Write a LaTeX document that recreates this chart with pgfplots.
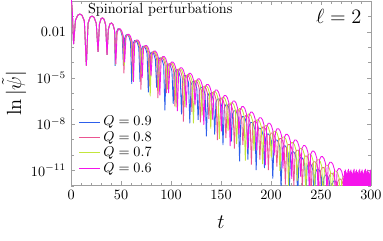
\documentclass[border=0pt]{standalone}
\usepackage{pgfplots}
\pgfplotsset{compat=1.18}
\usepackage{pgfplotstable}
\definecolor{cQnine}{RGB}{45,95,235}
\definecolor{cQeight}{RGB}{235,85,145}
\definecolor{cQseven}{RGB}{195,230,60}
\definecolor{cQsix}{RGB}{245,20,235}
\pgfplotsset{shortline/.style={legend image code/.code={\draw[##1] (0cm,0cm) -- (0.52cm,0cm);}}}

% log10 |psi| versus t
\pgfplotstableread{
t y
0 0.3
1.2 -0.6
2.5 -2.8
4.4 -1.25
6.7 -0.92
8.9 -0.85
11.0 -0.93
13.3 -1.3
15.3 -4.2
17.0 -1.45
19.0 -1.06
21.0 -0.98
23.0 -1.06
25.2 -1.45
27.0 -3.3
28.4 -1.5
30.0 -1.15
31.5 -1.1
33.0 -1.18
34.6 -1.55
36.0 -3.5
37.3 -1.85
38.9 -1.48
40.4 -1.43
41.9 -1.52
43.5 -1.9
44.1 -4.22
45.35 -2.02
46.84 -1.81
48.25 -1.81
49.66 -1.94
51.16 -2.28
52.4 -4.20
53.65 -2.40
55.14 -2.19
56.55 -2.19
57.96 -2.32
59.46 -2.66
60.7 -5.38
61.95 -2.78
63.44 -2.57
64.85 -2.57
66.26 -2.70
67.76 -3.04
69.0 -5.26
70.25 -3.16
71.74 -2.95
73.15 -2.95
74.56 -3.08
76.06 -3.42
77.3 -5.94
78.55 -3.54
80.04 -3.33
81.45 -3.33
82.86 -3.46
84.36 -3.80
85.6 -5.62
86.85 -3.92
88.34 -3.71
89.75 -3.71
91.16 -3.84
92.66 -4.18
93.9 -7.10
95.15 -4.30
96.64 -4.09
98.05 -4.09
99.46 -4.22
100.96 -4.56
102.2 -6.68
103.45 -4.68
104.94 -4.47
106.35 -4.47
107.76 -4.60
109.26 -4.94
110.5 -7.36
111.75 -5.06
113.24 -4.85
114.65 -4.85
116.06 -4.98
117.56 -5.32
118.8 -7.94
120.05 -5.44
121.54 -5.23
122.95 -5.23
124.36 -5.36
125.86 -5.70
127.1 -7.72
128.35 -5.82
129.84 -5.61
131.25 -5.61
132.66 -5.74
134.16 -6.08
135.4 -8.80
136.65 -6.20
138.14 -5.99
139.55 -5.99
140.96 -6.12
142.46 -6.46
143.7 -8.68
144.95 -6.58
146.44 -6.37
147.85 -6.37
149.26 -6.50
150.76 -6.84
152.0 -9.36
153.25 -6.96
154.74 -6.75
156.15 -6.75
157.56 -6.88
159.06 -7.22
160.3 -9.14
161.55 -7.34
163.04 -7.13
164.45 -7.13
165.86 -7.26
167.36 -7.60
168.6 -10.42
169.85 -7.72
171.34 -7.51
172.75 -7.51
174.16 -7.64
175.66 -7.98
176.9 -10.30
178.15 -8.10
179.64 -7.89
181.05 -7.89
182.46 -8.02
183.96 -8.36
185.2 -10.98
186.45 -8.48
187.94 -8.27
189.35 -8.27
190.76 -8.40
192.26 -8.74
193.5 -10.86
194.75 -8.86
196.24 -8.65
197.65 -8.65
199.06 -8.78
200.56 -9.12
201.8 -11.54
203.05 -9.24
204.54 -9.03
205.95 -9.03
207.36 -9.16
208.86 -9.50
210.1 -12.22
211.35 -9.62
212.84 -9.41
214.25 -9.41
215.66 -9.54
217.16 -9.88
218.4 -12.10
219.65 -10.00
221.14 -9.79
222.55 -9.79
223.96 -9.92
225.46 -10.26
226.7 -12.78
227.95 -10.38
229.44 -10.17
230.85 -10.17
232.26 -10.30
233.76 -10.64
235.0 -12.66
236.25 -10.76
237.74 -10.55
239.15 -10.55
240.56 -10.68
242.06 -11.02
243.3 -13.34
244.55 -11.14
246.04 -10.93
247.45 -10.93
248.86 -11.06
250.36 -11.40
251.6 -13.62
252.85 -11.52
254.34 -11.31
255.75 -11.31
257.16 -11.44
258.66 -11.78
259.9 -14.0
261.15 -11.90
262.64 -11.69
264.05 -11.69
265.46 -11.82
266.96 -12.16
268.2 -14.4
}\tblnine

\pgfplotstableread{
t y
0 0.3
1.2 -0.6
2.5 -2.8
4.4 -1.25
6.7 -0.92
8.9 -0.85
11.0 -0.93
13.3 -1.3
15.3 -4.2
17.0 -1.45
19.0 -1.06
21.0 -0.98
23.0 -1.06
25.2 -1.45
27.0 -3.3
28.4 -1.5
30.0 -1.15
31.5 -1.1
33.0 -1.18
34.6 -1.55
36.0 -3.5
37.3 -1.85
38.9 -1.48
40.4 -1.43
41.9 -1.52
43.5 -1.9
44.4 -3.93
45.68 -2.03
47.20 -1.82
48.65 -1.82
50.10 -1.94
51.63 -2.29
52.9 -4.70
54.18 -2.40
55.70 -2.19
57.15 -2.19
58.60 -2.31
60.13 -2.66
61.4 -4.38
62.68 -2.78
64.20 -2.57
65.65 -2.57
67.10 -2.69
68.63 -3.04
69.9 -5.75
71.18 -3.15
72.70 -2.94
74.15 -2.94
75.60 -3.06
77.13 -3.41
78.4 -5.53
79.68 -3.53
81.20 -3.32
82.65 -3.32
84.10 -3.44
85.63 -3.79
86.9 -6.30
88.18 -3.90
89.70 -3.69
91.15 -3.69
92.60 -3.81
94.13 -4.16
95.4 -5.98
96.68 -4.28
98.20 -4.07
99.65 -4.07
101.10 -4.19
102.63 -4.54
103.9 -6.85
105.18 -4.65
106.70 -4.44
108.15 -4.44
109.60 -4.56
111.13 -4.91
112.4 -7.83
113.68 -5.03
115.20 -4.82
116.65 -4.82
118.10 -4.94
119.63 -5.29
120.9 -7.20
122.18 -5.40
123.70 -5.19
125.15 -5.19
126.60 -5.31
128.13 -5.66
129.4 -7.88
130.68 -5.78
132.20 -5.57
133.65 -5.57
135.10 -5.69
136.63 -6.04
137.9 -7.65
139.18 -6.15
140.70 -5.94
142.15 -5.94
143.60 -6.06
145.13 -6.41
146.4 -9.03
147.68 -6.53
149.20 -6.32
150.65 -6.32
152.10 -6.44
153.63 -6.79
154.9 -8.90
156.18 -6.90
157.70 -6.69
159.15 -6.69
160.60 -6.81
162.13 -7.16
163.4 -9.58
164.68 -7.28
166.20 -7.07
167.65 -7.07
169.10 -7.19
170.63 -7.54
171.9 -9.35
173.18 -7.65
174.70 -7.44
176.15 -7.44
177.60 -7.56
179.13 -7.91
180.4 -10.63
181.68 -8.03
183.20 -7.82
184.65 -7.82
186.10 -7.94
187.63 -8.29
188.9 -10.30
190.18 -8.40
191.70 -8.19
193.15 -8.19
194.60 -8.31
196.13 -8.66
197.4 -10.98
198.68 -8.78
200.20 -8.57
201.65 -8.57
203.10 -8.69
204.63 -9.04
205.9 -10.75
207.18 -9.15
208.70 -8.94
210.15 -8.94
211.60 -9.06
213.13 -9.41
214.4 -11.93
215.68 -9.53
217.20 -9.32
218.65 -9.32
220.10 -9.44
221.63 -9.79
222.9 -12.00
224.18 -9.90
225.70 -9.69
227.15 -9.69
228.60 -9.81
230.13 -10.16
231.4 -12.08
232.68 -10.28
234.20 -10.07
235.65 -10.07
237.10 -10.19
238.63 -10.54
239.9 -13.15
241.18 -10.65
242.70 -10.44
244.15 -10.44
245.60 -10.56
247.13 -10.91
248.4 -13.03
249.68 -11.03
251.20 -10.82
252.65 -10.82
254.10 -10.94
255.63 -11.29
256.9 -13.30
258.18 -11.40
259.70 -11.19
261.15 -11.19
262.60 -11.31
264.13 -11.66
265.4 -13.88
266.68 -11.78
268.20 -11.57
269.65 -11.57
271.10 -11.69
272.63 -12.04
273.9 -14.25
275.18 -12.15
276.70 -11.94
278.15 -11.94
279.60 -12.06
281.13 -12.41
282.4 -14.63
}\tbleight

\pgfplotstableread{
t y
0 0.3
1.2 -0.6
2.5 -2.8
4.4 -1.25
6.7 -0.92
8.9 -0.85
11.0 -0.93
13.3 -1.3
15.3 -4.2
17.0 -1.45
19.0 -1.06
21.0 -0.98
23.0 -1.06
25.2 -1.45
27.0 -3.3
28.4 -1.5
30.0 -1.15
31.5 -1.1
33.0 -1.18
34.6 -1.55
36.0 -3.5
37.3 -1.85
38.9 -1.48
40.4 -1.43
41.9 -1.52
43.5 -1.9
44.6 -4.13
45.90 -2.03
47.45 -1.82
48.93 -1.82
50.40 -1.94
51.95 -2.28
53.25 -4.20
54.55 -2.40
56.10 -2.19
57.58 -2.19
59.05 -2.31
60.60 -2.65
61.90 -5.17
63.20 -2.77
64.75 -2.56
66.23 -2.56
67.70 -2.68
69.25 -3.02
70.55 -4.74
71.85 -3.14
73.40 -2.93
74.88 -2.93
76.35 -3.05
77.90 -3.39
79.20 -6.20
80.50 -3.50
82.05 -3.29
83.53 -3.29
85.00 -3.41
86.55 -3.75
87.85 -5.87
89.15 -3.87
90.70 -3.66
92.18 -3.66
93.65 -3.78
95.20 -4.12
96.50 -5.74
97.80 -4.24
99.35 -4.03
100.83 -4.03
102.30 -4.15
103.85 -4.49
105.15 -6.91
106.45 -4.61
108.00 -4.40
109.48 -4.40
110.95 -4.52
112.50 -4.86
113.80 -6.88
115.10 -4.98
116.65 -4.77
118.13 -4.77
119.60 -4.89
121.15 -5.23
122.45 -7.95
123.75 -5.35
125.30 -5.14
126.78 -5.14
128.25 -5.26
129.80 -5.60
131.10 -7.42
132.40 -5.72
133.95 -5.51
135.43 -5.51
136.90 -5.63
138.45 -5.97
139.75 -8.29
141.05 -6.09
142.60 -5.88
144.08 -5.88
145.55 -6.00
147.10 -6.34
148.40 -8.96
149.70 -6.46
151.25 -6.25
152.73 -6.25
154.20 -6.37
155.75 -6.71
157.05 -8.43
158.35 -6.83
159.90 -6.62
161.38 -6.62
162.85 -6.74
164.40 -7.08
165.70 -9.29
167.00 -7.19
168.55 -6.98
170.03 -6.98
171.50 -7.10
173.05 -7.44
174.35 -10.36
175.65 -7.56
177.20 -7.35
178.68 -7.35
180.15 -7.47
181.70 -7.81
183.00 -9.73
184.30 -7.93
185.85 -7.72
187.33 -7.72
188.80 -7.84
190.35 -8.18
191.65 -10.60
192.95 -8.30
194.50 -8.09
195.98 -8.09
197.45 -8.21
199.00 -8.55
200.30 -10.17
201.60 -8.67
203.15 -8.46
204.63 -8.46
206.10 -8.58
207.65 -8.92
208.95 -11.04
210.25 -9.04
211.80 -8.83
213.28 -8.83
214.75 -8.95
216.30 -9.29
217.60 -12.01
218.90 -9.41
220.45 -9.20
221.93 -9.20
223.40 -9.32
224.95 -9.66
226.25 -11.68
227.55 -9.78
229.10 -9.57
230.58 -9.57
232.05 -9.69
233.60 -10.03
234.90 -12.35
236.20 -10.15
237.75 -9.94
239.23 -9.94
240.70 -10.06
242.25 -10.40
243.55 -12.12
244.85 -10.52
246.40 -10.31
247.88 -10.31
249.35 -10.43
250.90 -10.77
252.20 -13.28
253.50 -10.88
255.05 -10.67
256.53 -10.67
258.00 -10.79
259.55 -11.13
260.85 -13.25
262.15 -11.25
263.70 -11.04
265.18 -11.04
266.65 -11.16
268.20 -11.50
269.50 -13.42
270.80 -11.62
272.35 -11.41
273.83 -11.41
275.30 -11.53
276.85 -11.87
278.15 -14.09
279.45 -11.99
281.00 -11.78
282.48 -11.78
283.95 -11.90
285.50 -12.24
286.80 -14.46
}\tblseven

\pgfplotstableread{
t y
0 0.3
1.2 -0.6
2.5 -2.8
4.4 -1.25
6.7 -0.92
8.9 -0.85
11.0 -0.93
13.3 -1.3
15.3 -4.2
17.0 -1.45
19.0 -1.06
21.0 -0.98
23.0 -1.06
25.2 -1.45
27.0 -3.3
28.4 -1.5
30.0 -1.15
31.5 -1.1
33.0 -1.18
34.6 -1.55
36.0 -3.5
37.3 -1.85
38.9 -1.48
40.4 -1.43
41.9 -1.52
43.5 -1.9
44.8 -4.1
46.12 -2.02
47.70 -1.81
49.20 -1.81
50.70 -1.94
52.28 -2.28
53.6 -3.99
54.92 -2.38
56.50 -2.17
58.00 -2.17
59.50 -2.30
61.08 -2.64
62.4 -5.25
63.72 -2.74
65.30 -2.53
66.80 -2.53
68.30 -2.66
69.88 -3.00
71.2 -5.01
72.52 -3.10
74.10 -2.89
75.60 -2.89
77.10 -3.02
78.68 -3.36
80.0 -4.87
81.32 -3.46
82.90 -3.25
84.40 -3.25
85.90 -3.38
87.48 -3.72
88.8 -6.13
90.12 -3.82
91.70 -3.61
93.20 -3.61
94.70 -3.74
96.28 -4.08
97.6 -5.99
98.92 -4.18
100.50 -3.97
102.00 -3.97
103.50 -4.10
105.08 -4.44
106.4 -7.16
107.72 -4.55
109.30 -4.34
110.80 -4.34
112.30 -4.47
113.88 -4.81
115.2 -6.92
116.52 -4.91
118.10 -4.70
119.60 -4.70
121.10 -4.83
122.68 -5.17
124.0 -6.78
125.32 -5.27
126.90 -5.06
128.40 -5.06
129.90 -5.19
131.48 -5.53
132.8 -8.04
134.12 -5.63
135.70 -5.42
137.20 -5.42
138.70 -5.55
140.28 -5.89
141.6 -7.70
142.92 -5.99
144.50 -5.78
146.00 -5.78
147.50 -5.91
149.08 -6.25
150.4 -8.46
151.72 -6.35
153.30 -6.14
154.80 -6.14
156.30 -6.27
157.88 -6.61
159.2 -9.42
160.52 -6.71
162.10 -6.50
163.60 -6.50
165.10 -6.63
166.68 -6.97
168.0 -8.68
169.32 -7.07
170.90 -6.86
172.40 -6.86
173.90 -6.99
175.48 -7.33
176.8 -9.64
178.12 -7.43
179.70 -7.22
181.20 -7.22
182.70 -7.35
184.28 -7.69
185.6 -9.70
186.92 -7.79
188.50 -7.58
190.00 -7.58
191.50 -7.71
193.08 -8.05
194.4 -10.66
195.72 -8.15
197.30 -7.94
198.80 -7.94
200.30 -8.07
201.88 -8.41
203.2 -10.02
204.52 -8.51
206.10 -8.30
207.60 -8.30
209.10 -8.43
210.68 -8.77
212.0 -10.88
213.32 -8.87
214.90 -8.66
216.40 -8.66
217.90 -8.79
219.48 -9.13
220.8 -11.55
222.12 -9.24
223.70 -9.03
225.20 -9.03
226.70 -9.16
228.28 -9.50
229.6 -11.41
230.92 -9.60
232.50 -9.39
234.00 -9.39
235.50 -9.52
237.08 -9.86
238.4 -12.57
239.72 -9.96
241.30 -9.75
242.80 -9.75
244.30 -9.88
245.88 -10.22
247.2 -12.43
248.52 -10.32
250.10 -10.11
251.60 -10.11
253.10 -10.24
254.68 -10.58
256.0 -12.39
257.32 -10.68
258.90 -10.47
260.40 -10.47
261.90 -10.60
263.48 -10.94
264.8 -13.45
266.1 -11.05
267.7 -10.88
269.2 -10.90
270.7 -11.05
272.0 -11.40
273.0 -12.30
273.6 -11.05
274.0 -12.3
274.4 -10.95
274.8 -12.3
275.2 -11.10
275.6 -12.3
276.0 -11.20
276.4 -12.3
276.8 -11.00
277.2 -12.3
277.6 -10.90
278.0 -12.3
278.4 -11.15
278.8 -12.3
279.2 -11.05
279.6 -12.3
280.0 -10.95
280.4 -12.3
280.8 -11.10
281.2 -12.3
281.6 -11.20
282.0 -12.3
282.4 -11.00
282.8 -12.3
283.2 -10.90
283.6 -12.3
284.0 -11.15
284.4 -12.3
284.8 -11.05
285.2 -12.3
285.6 -10.95
286.0 -12.3
286.4 -11.10
286.8 -12.3
287.2 -11.20
287.6 -12.3
288.0 -11.00
288.4 -12.3
288.8 -10.90
289.2 -12.3
289.6 -11.15
290.0 -12.3
290.4 -11.05
290.8 -12.3
291.2 -10.95
291.6 -12.3
292.0 -11.10
292.4 -12.3
292.8 -11.20
293.2 -12.3
293.6 -11.00
294.0 -12.3
294.4 -10.90
294.8 -12.3
295.2 -11.15
295.6 -12.3
296.0 -11.05
296.4 -12.3
296.8 -10.95
297.2 -12.3
297.6 -11.10
298.0 -12.3
298.4 -11.20
298.8 -12.3
299.2 -11.00
299.6 -12.3
300.0 -10.95
}\tblsix

\begin{document}
\begin{tikzpicture}
\begin{axis}[
  scale only axis, width=211pt, height=130pt,
  xmin=0, xmax=300, ymin=-12, ymax=0,
  xtick={0,50,...,300}, minor x tick num=4,
  ytick={-11,-8,-5,-2},
  yticklabels={$10^{-11}$,$10^{-8}$,$10^{-5}$,$0.01$},
  minor ytick={-12,-11,...,0},
  tick align=inside, xtick pos=both, ytick pos=both,
  axis line style={gray!75},
  every tick/.append style={gray!75},
  major tick length=3pt, minor tick length=1.8pt,
  xlabel={$t$}, ylabel={$\ln|\tilde{\psi}|$},
  xlabel style={font=\Large, at={(axis description cs:0.5,-0.2)}, anchor=center},
  ylabel style={font=\Large, at={(axis description cs:-0.19,0.5)}, anchor=center},
  legend style={at={(axis description cs:0.01,0.03)}, anchor=south west,
    draw=none, fill=none, row sep=-1.5pt, font=\normalsize},
  legend cell align=left,
  shortline,
  every axis plot/.append style={line width=0.6pt},
]
\addplot[cQnine] table[x=t,y=y] {\tblnine};
\addlegendentry{$Q=0.9$}
\addplot[cQeight] table[x=t,y=y] {\tbleight};
\addlegendentry{$Q=0.8$}
\addplot[cQseven] table[x=t,y=y] {\tblseven};
\addlegendentry{$Q=0.7$}
\addplot[cQsix] table[x=t,y=y] {\tblsix};
\addlegendentry{$Q=0.6$}
\node[anchor=west] at (rel axis cs:0.04,0.95) {Spinorial perturbations};
\node[anchor=east, font=\Large] at (rel axis cs:0.985,0.915) {$\ell=2$};
\end{axis}
\pgfresetboundingbox
\path[use as bounding box] ([xshift=-50pt,yshift=-38.7pt]current axis.south west) rectangle ([xshift=8.5pt,yshift=0.7pt]current axis.north east);
\end{tikzpicture}
\end{document}
